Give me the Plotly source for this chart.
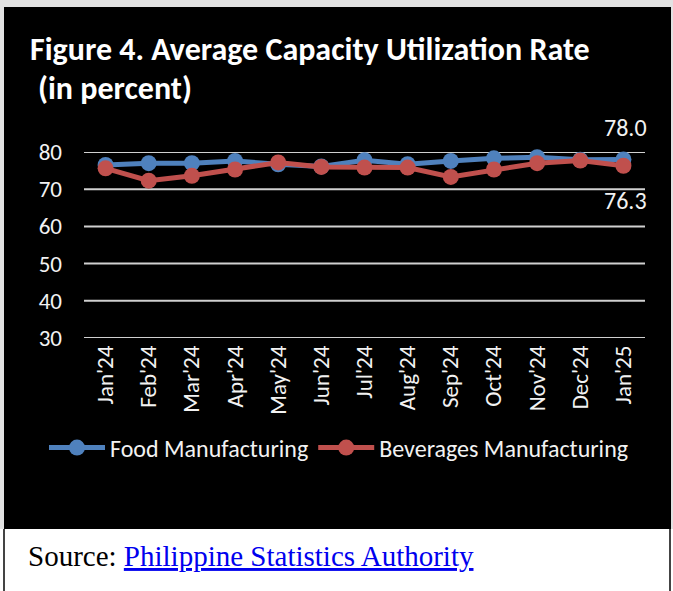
import plotly.graph_objects as go

# Monthly average capacity utilization rate (in percent)
months = ["Jan'24", "Feb'24", "Mar'24", "Apr'24", "May'24", "Jun'24", "Jul'24",
          "Aug'24", "Sep'24", "Oct'24", "Nov'24", "Dec'24", "Jan'25"]
food = [76.5, 77.0, 77.0, 77.6, 76.7, 76.1, 77.8, 76.7, 77.6, 78.3, 78.6, 77.9, 78.0]
beverages = [75.6, 72.3, 73.6, 75.3, 77.2, 76.0, 75.8, 75.8, 73.3, 75.3, 77.0, 77.7, 76.3]
y_ticks = [30, 40, 50, 60, 70, 80]

W, H = 673, 591
L, R, T, B = 84, 28, 152, 253
PW, PH = W - L - R, H - T - B

def px(x):
    return (x - L) / PW

def py(y):
    return (H - B - y) / PH

BLUE = "#4F81BD"
RED = "#C0504D"
TXT = "#f2f2f2"
GRID = "#d0d0d0"
FONT = "Carlito, Lato, sans-serif"

fig = go.Figure()
fig.add_trace(go.Scatter(
    x=months, y=food, name="Food Manufacturing", mode="lines+markers",
    line=dict(color=BLUE, width=5), marker=dict(color=BLUE, size=16),
    cliponaxis=False,
))
fig.add_trace(go.Scatter(
    x=months, y=beverages, name="Beverages Manufacturing", mode="lines+markers",
    line=dict(color=RED, width=5), marker=dict(color=RED, size=16),
    cliponaxis=False,
))

shapes = [
    # light frame
    dict(type="rect", xref="paper", yref="paper", x0=px(0), x1=px(W), y0=py(0), y1=py(H),
         fillcolor="#e2e2e2", line_width=0, layer="below"),
    # dark chart panel
    dict(type="rect", xref="paper", yref="paper", x0=px(4), x1=px(671), y0=py(7), y1=py(529),
         fillcolor="black", line_width=0, layer="below"),
    # source box
    dict(type="rect", xref="paper", yref="paper", x0=px(0), x1=px(W), y0=py(529), y1=py(H),
         fillcolor="white", line_width=0, layer="below"),
    dict(type="line", xref="paper", yref="paper", x0=px(4), x1=px(4), y0=py(529), y1=py(H),
         line=dict(color="#444444", width=2), layer="below"),
    dict(type="line", xref="paper", yref="paper", x0=px(670), x1=px(670), y0=py(529), y1=py(H),
         line=dict(color="#444444", width=2), layer="below"),
]
# horizontal gridlines at every y tick, including the range edges
for v in y_ticks:
    shapes.append(dict(type="line", xref="paper", yref="y", x0=0, x1=1, y0=v, y1=v,
                       line=dict(color=GRID, width=2), layer="below"))

annotations = [
    dict(text="<b>Figure 4. Average Capacity Utilization Rate</b>", xref="paper", yref="paper",
         x=px(28), y=py(28), xanchor="left", yanchor="top", showarrow=False,
         font=dict(family=FONT, size=32, color="white")),
    dict(text="<b>(in percent)</b>", xref="paper", yref="paper",
         x=px(36), y=py(67), xanchor="left", yanchor="top", showarrow=False,
         font=dict(family=FONT, size=32, color="white")),
    dict(text=f"{food[-1]:.1f}", x=months[-1], y=food[-1], yshift=32, xshift=2, showarrow=False,
         font=dict(family=FONT, size=24, color=TXT)),
    dict(text=f"{beverages[-1]:.1f}", x=months[-1], y=beverages[-1], yshift=-35, xshift=2,
         showarrow=False, font=dict(family=FONT, size=24, color=TXT)),
    dict(text='Source: <a href="https://psa.gov.ph"><span style="color:#0000ee"><u>Philippine Statistics Authority</u></span></a>',
         xref="paper", yref="paper", x=px(26), y=py(556), xanchor="left", yanchor="middle",
         showarrow=False, font=dict(family="Liberation Serif, serif", size=29, color="black")),
]

fig.update_layout(
    width=W, height=H, autosize=False,
    margin=dict(l=L, r=R, t=T, b=B, pad=0),
    paper_bgcolor="black", plot_bgcolor="rgba(0,0,0,0)",
    shapes=shapes, annotations=annotations,
    showlegend=True,
    legend=dict(orientation="h", x=px(44), y=py(448), xanchor="left", yanchor="middle",
                font=dict(family=FONT, size=24, color=TXT), bgcolor="rgba(0,0,0,0)",
                itemwidth=56, tracegroupgap=0),
    xaxis=dict(type="category", range=[-0.5, len(months) - 0.5], showgrid=False,
               showline=False, zeroline=False, tickangle=-90, ticks="",
               ticklabelstandoff=2, tickfont=dict(family=FONT, size=23, color=TXT)),
    yaxis=dict(range=[30, 80], tickvals=y_ticks, showgrid=False,
               showline=False, zeroline=False, ticks="",
               ticklabelstandoff=21, tickfont=dict(family=FONT, size=23, color=TXT)),
)

fig.write_html("out.html")
